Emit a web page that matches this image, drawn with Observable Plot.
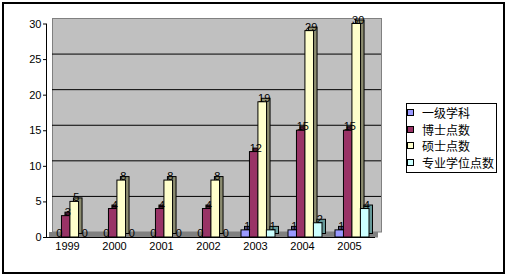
<!DOCTYPE html>
<html><head><meta charset="utf-8">
<script src="https://cdn.jsdelivr.net/npm/d3@7"></script>
<script src="https://cdn.jsdelivr.net/npm/@observablehq/plot@0.6"></script>
<style>
body{margin:0;background:#fff;}
#wrap{position:relative;width:505px;height:276px;overflow:hidden;background:#fff;font-family:"Liberation Sans",Arial,sans-serif;}
#chart{position:absolute;left:0;top:0;}
#border{position:absolute;left:2px;top:2px;width:503px;height:272px;box-sizing:border-box;border:2px solid #000;pointer-events:none;}
#legend{position:absolute;left:406px;top:103px;width:91px;height:70px;box-sizing:border-box;border:1px solid #000;background:#fff;font-family:"Noto Sans CJK SC",sans-serif;font-size:12px;color:#000;}
.row{position:absolute;left:0;height:16px;display:flex;align-items:center;white-space:nowrap;}
.sw{width:5px;height:5px;border:1px solid #000;margin-right:8px;flex:none;}
</style></head>
<body><div id="wrap"><div id="chart"></div><div id="legend"></div><div id="border"></div></div>
<script>
const years = ["1999","2000","2001","2002","2003","2004","2005"];
const seriesNames = ["一级学科","博士点数","硕士点数","专业学位点数"];
const yiji    = [0,0,0,0,1,1,1];
const boshi   = [3,4,4,4,12,15,15];
const shuoshi = [5,8,8,8,19,29,30];
const zhuanye = [0,0,0,0,1,2,4];
const yTicks = [0,5,10,15,20,25,30];
const colors = ["#9999FF","#993366","#FFFFCC","#CCFFFF"];
const sideColors = ["#4d4d80","#4d1a33","#8c8c70","#669999"];

const seriesValues = [yiji, boshi, shuoshi, zhuanye];
const rows = years.flatMap((y, j) => seriesNames.map((s, i) => ({year: y, series: s, idx: i, value: seriesValues[i][j]})));

const bandW = 33.84, w = bandW / 4;
const marks = [
  Plot.frame({fill: "#c0c0c0", stroke: "#808080", dx: 6, dy: -5.5}),
  Plot.gridY({ticks: [5,10,15,20,25], stroke: "#000", strokeOpacity: 1, dx: 6, dy: -5.5}),
  Plot.ruleY([0], {stroke: "#808080", strokeWidth: 5.5, dx: 3, dy: -2.75})
];
seriesNames.forEach((s, i) => {
  const d = rows.filter(r => r.idx === i);
  const ins = {insetLeft: i * w, insetRight: (3 - i) * w};
  marks.push(Plot.barY(d, {x: "year", y: "value", ...ins, fill: sideColors[i], stroke: "#000", strokeWidth: 1, dx: 3.5, dy: -3.5}));
  marks.push(Plot.barY(d, {x: "year", y: "value", ...ins, fill: colors[i], stroke: "#000", strokeWidth: 1}));
});
marks.push(Plot.ruleY([0], {stroke: "#000"}));
marks.push(Plot.frame({anchor: "left", stroke: "#000"}));
marks.push(Plot.axisY({ticks: yTicks, tickSize: 3, tickPadding: 2, fontSize: 11, label: null}));
marks.push(Plot.axisX({tickSize: 0, tickPadding: 5, dx: -3, fontSize: 11, label: null}));
seriesNames.forEach((s, i) => {
  const d = rows.filter(r => r.idx === i);
  marks.push(Plot.text(d, {x: "year", y: "value", text: r => String(r.value), dx: (i + 0.5) * w - bandW / 2 + 1.5, dy: -4, fontSize: 11, fill: "#000"}));
});

const chart = Plot.plot({
  width: 505, height: 276,
  marginLeft: 46, marginRight: 130, marginTop: 23.5, marginBottom: 39,
  style: {background: "transparent", fontFamily: "'Liberation Sans', Arial, sans-serif", fontSize: "11px", color: "#000", overflow: "visible"},
  x: {type: "band", domain: years, paddingInner: 0.28, paddingOuter: 0.14, axis: null},
  y: {domain: [0, 30], axis: null},
  marks
});
document.getElementById("chart").appendChild(chart);

const legend = document.getElementById("legend");
seriesNames.forEach((s, i) => {
  const row = document.createElement("div");
  row.className = "row";
  row.style.top = (0.7 + i * 16.45) + "px";
  const sw = document.createElement("div");
  sw.className = "sw";
  sw.style.background = colors[i];
  row.appendChild(sw);
  const t = document.createElement("span");
  t.textContent = s;
  row.appendChild(t);
  legend.appendChild(row);
});
</script>
</body></html>
